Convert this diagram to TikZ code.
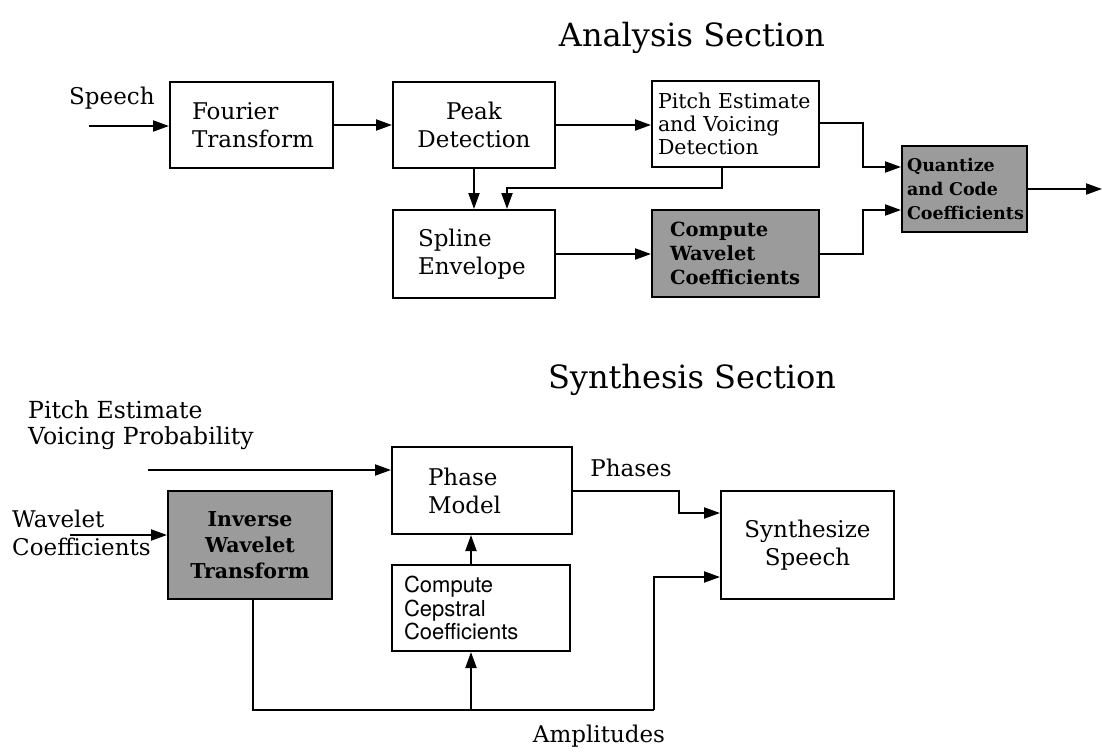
\documentclass[tikz,border=0pt]{standalone}
\usepackage{fontspec}
\setmainfont{DejaVu Serif}
\setsansfont{TeX Gyre Heros}
\usetikzlibrary{arrows.meta,calc}

\tikzset{
  blk/.style={draw, line width=2pt, inner ysep=0pt, font=\fontsize{23}{28}\selectfont},
  lbox/.style n args={4}{blk, minimum width=#1, minimum height=#2, inner xsep=#3, text width=#4, align=left},
  cbox/.style n args={3}{blk, minimum width=#1, minimum height=#2, inner xsep=4pt, text width=#3, align=center},
  shade/.style={fill={rgb,255:red,155;green,155;blue,155}},
  arr/.style={line width=2pt, -{Triangle[length=16pt,width=11pt]}},
  wire/.style={line width=2pt},
  lbl/.style={inner sep=0pt, font=\fontsize{23}{28}\selectfont},
  title/.style={inner sep=0pt, font=\fontsize{32}{36}\selectfont}
}

\begin{document}
\begin{tikzpicture}[x=1pt,y=-1pt]
\useasboundingbox (0,0) rectangle (1102,752);

% ---------------- Analysis ----------------
\node[title] (atitle) at (692,38) {Analysis Section};

\node[lbox={163pt}{86pt}{22pt}{119pt}] (ft) at (251.5,125) {Fourier\\Transform};
\node[cbox={162pt}{86pt}{154pt}] (pd) at (474,125) {Peak\\Detection};
\node[lbox={167pt}{86pt}{6pt}{155pt}, font=\fontsize{20.5}{23}\selectfont] (pe) at (735.5,124) {Pitch Estimate\\and Voicing\\Detection};
\node[lbox={162pt}{88pt}{25pt}{112pt}] (sp) at (474,254) {Spline\\Envelope};
\node[lbox={167pt}{87pt}{18pt}{131pt}, shade, font=\bfseries\fontsize{19.5}{24}\selectfont] (cw) at (735.5,253.5) {Compute\\Wavelet\\Coefficients};
\node[lbox={125pt}{86pt}{5pt}{115pt}, shade, font=\bfseries\fontsize{17.5}{24}\selectfont] (qc) at (964.5,189) {Quantize\\and Code\\Coefficients};

\node[lbl, anchor=west] (speech) at (69,98) {Speech};
\coordinate (sin) at (89,126);
\coordinate (qout) at (1102,189);

\draw[arr] (sin) -- (sin -| ft.west);
\draw[arr] (ft.east) -- (ft.east -| pd.west);
\draw[arr] (pd.east) -- (pd.east -| pe.west);
\draw[arr] (pd.south) -- (sp.north);
\draw[arr] ($(pe.south)+(-13.5,0)$) -- ++(0,20) -| ($(sp.north)+(33,0)$);
\draw[arr] (sp.east) -- (sp.east -| cw.west);
\draw[arr] ($(pe.east)+(0,-1)$) -- ++(43,0) |- ($(qc.west)+(0,-22)$);
\draw[arr] (cw.east) -- ++(43,0) |- ($(qc.west)+(0,21)$);
\draw[arr] (qc.east) -- (qout);

% ---------------- Synthesis ----------------
\node[title] (stitle) at (692,380) {Synthesis Section};

\node[lbox={180pt}{87pt}{36pt}{108pt}] (pm) at (482,490.5) {Phase\\Model};
\node[lbox={164pt}{108pt}{12pt}{140pt}, align=center, shade, font=\bfseries\fontsize{20.5}{26}\selectfont] (iw) at (250,545) {Inverse\\Wavelet\\Transform};
\node[lbox={178pt}{86pt}{12pt}{154pt}, font=\sffamily\fontsize{22}{23.5}\selectfont] (cc) at (481,608) {Compute\\Cepstral\\Coefficients};
\node[cbox={173pt}{108pt}{165pt}] (ss) at (807.5,545) {Synthesize\\Speech};

\node[lbl, anchor=west, align=left, font=\fontsize{23.5}{26}\selectfont] (pvlbl) at (28,425) {Pitch Estimate\\Voicing Probability};
\node[lbl, anchor=west, align=left] (wclbl) at (12,533) {Wavelet\\Coefficients};
\node[lbl] (phlbl) at (631,468) {Phases};
\node[lbl] (amlbl) at (599,736) {Amplitudes};

\coordinate (pvin) at (148,470);
\coordinate (wcin) at (70,535);
\coordinate (ampJ) at (471,710);
\coordinate (ampR) at (654,710);

\draw[arr] (pvin) -- (pvin -| pm.west);
\draw[arr] (wcin) -- (wcin -| iw.west);
\draw[arr] (ampJ |- cc.north) -- (ampJ |- pm.south);
\draw[arr] (pm.east) -- ++(106,0) |- ($(ss.west)+(0,-32)$);
\draw[wire] ($(iw.south)+(3,0)$) |- (ampR);
\draw[arr] (ampR) |- ($(ss.west)+(0,32)$);
\draw[arr] (ampJ) -- (ampJ |- cc.south);
\end{tikzpicture}
\end{document}
